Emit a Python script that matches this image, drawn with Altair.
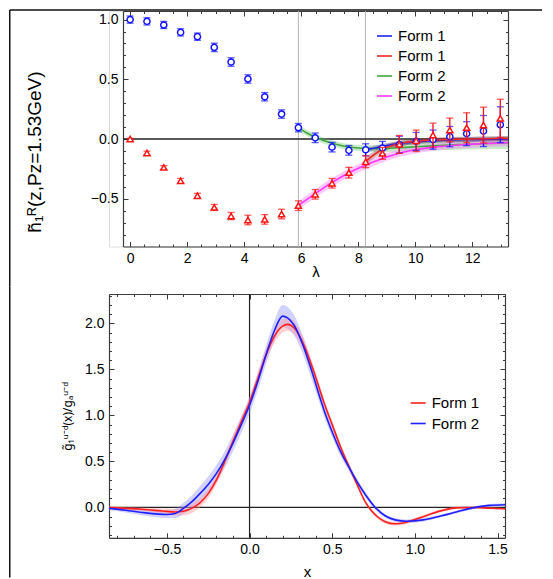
import altair as alt
import pandas as pd
import numpy as np

FONT = "Liberation Sans"
FRAME = "#3c3c3c"

# ---------------- top panel: lattice data ----------------
lam = [0.0, 0.59, 1.18, 1.77, 2.36, 2.95, 3.54, 4.13, 4.72, 5.31, 5.90, 6.49,
       7.08, 7.67, 8.26, 8.85, 9.44, 10.03, 10.62, 11.21, 11.80, 12.39, 12.98]
blue_val = [1.0, 0.985, 0.955, 0.893, 0.857, 0.767, 0.645, 0.503, 0.354, 0.209, 0.095, 0.01,
            -0.068, -0.095, -0.09, -0.075, -0.047, -0.02, -0.005, 0.02, 0.045, 0.067, 0.12]
blue_err = [0.03, 0.03, 0.03, 0.03, 0.03, 0.035, 0.035, 0.035, 0.035, 0.035, 0.035, 0.04,
            0.04, 0.04, 0.05, 0.055, 0.07, 0.075, 0.08, 0.085, 0.10, 0.13, 0.15]
red_val = [0.0, -0.117, -0.238, -0.35, -0.475, -0.573, -0.645, -0.678, -0.673, -0.628, -0.558, -0.463,
           -0.37, -0.282, -0.19, -0.12, -0.045, -0.015, 0.033, 0.075, 0.095, 0.117, 0.173]
red_err = [0.005, 0.015, 0.015, 0.02, 0.02, 0.025, 0.03, 0.04, 0.04, 0.04, 0.04, 0.04,
           0.04, 0.045, 0.05, 0.05, 0.075, 0.09, 0.10, 0.10, 0.125, 0.15, 0.16]

curve2_lam = [5.90, 6.20, 6.50, 7.00, 7.50, 8.00, 8.25, 8.50, 9.00, 9.50, 10.0, 10.5,
              11.0, 11.5, 12.0, 12.5, 13.0, 13.25]
green_mid = [0.095, 0.05, 0.015, -0.03, -0.06, -0.075, -0.078, -0.08, -0.078, -0.072, -0.065, -0.058,
             -0.052, -0.047, -0.042, -0.038, -0.034, -0.032]
green_hw = [0.025, 0.025, 0.025, 0.025, 0.025, 0.025, 0.025, 0.028, 0.03, 0.033, 0.035, 0.038,
            0.04, 0.042, 0.045, 0.047, 0.05, 0.05]
magenta_mid = [-0.555, -0.505, -0.455, -0.375, -0.305, -0.245, -0.22, -0.195, -0.15, -0.115, -0.09, -0.072,
               -0.06, -0.05, -0.043, -0.037, -0.032, -0.03]
magenta_hw = [0.035, 0.035, 0.035, 0.035, 0.035, 0.035, 0.035, 0.035, 0.033, 0.032, 0.03, 0.03,
              0.03, 0.03, 0.03, 0.03, 0.03, 0.03]
curve1_lam = [8.25, 8.50, 8.75, 9.00, 9.50, 10.0, 10.5, 11.0, 11.5, 12.0, 12.5, 13.0, 13.25]
blue1_mid = [-0.09, -0.08, -0.066, -0.054, -0.036, -0.024, -0.016, -0.01, -0.006, -0.004, -0.002, -0.001, 0.0]
blue1_hw = [0.02, 0.02, 0.02, 0.02, 0.02, 0.02, 0.02, 0.02, 0.02, 0.02, 0.02, 0.02, 0.02]
red1_mid = [-0.19, -0.14, -0.10, -0.07, -0.036, -0.018, -0.01, -0.005, -0.002, 0.0, 0.002, 0.004, 0.005]
red1_hw = [0.03, 0.03, 0.028, 0.026, 0.024, 0.022, 0.02, 0.02, 0.02, 0.02, 0.02, 0.02, 0.02]
cut_lam = [5.9, 8.25]

top_series = ["b1", "r1", "g2", "m2"]
top_line_colors = ["#2323e6", "#ec2a2a", "#3fa83f", "#ff38ff"]
top_band_colors = {"b1": "#30308a", "r1": "#8a2a2a", "g2": "#5cc25c", "m2": "#ff5cff"}

# ---------------- bottom panel ----------------
xg = [-0.85, -0.75, -0.65, -0.55, -0.50, -0.45, -0.40, -0.35, -0.30, -0.25, -0.20, -0.15,
      -0.10, -0.05, 0.00, 0.05, 0.10, 0.15, 0.20, 0.23, 0.27, 0.32, 0.38, 0.43, 0.45, 0.50,
      0.55, 0.60, 0.65, 0.70, 0.76, 0.82, 0.88, 0.95, 1.05, 1.15, 1.25, 1.35, 1.45, 1.545]
f1_mid = [0.0, -0.01, -0.02, -0.035, -0.043, -0.05, -0.042, -0.01, 0.05, 0.15, 0.30, 0.50,
          0.72, 0.93, 1.14, 1.40, 1.66, 1.86, 1.97, 1.99, 1.95, 1.80, 1.52, 1.25, 1.14, 0.90,
          0.66, 0.45, 0.25, 0.06, -0.08, -0.155, -0.178, -0.16, -0.10, -0.04, -0.005, 0.0, -0.008, -0.015]
f1_hw = [0.015, 0.015, 0.02, 0.025, 0.03, 0.035, 0.045, 0.05, 0.05, 0.05, 0.05, 0.05,
         0.05, 0.05, 0.055, 0.06, 0.065, 0.07, 0.07, 0.07, 0.07, 0.065, 0.06, 0.05, 0.045, 0.04,
         0.035, 0.03, 0.025, 0.02, 0.02, 0.02, 0.02, 0.02, 0.015, 0.015, 0.01, 0.01, 0.01, 0.01]
f2_mid = [-0.01, -0.03, -0.055, -0.073, -0.076, -0.065, -0.01, 0.06, 0.15, 0.25, 0.37, 0.52,
          0.70, 0.90, 1.11, 1.37, 1.66, 1.92, 2.08, 2.06, 1.98, 1.78, 1.46, 1.17, 1.06, 0.82,
          0.61, 0.44, 0.28, 0.14, 0.0, -0.09, -0.135, -0.15, -0.135, -0.095, -0.05, -0.005, 0.022, 0.03]
f2_hw = [0.02, 0.025, 0.03, 0.035, 0.04, 0.05, 0.06, 0.07, 0.08, 0.085, 0.09, 0.09,
         0.09, 0.09, 0.09, 0.095, 0.10, 0.11, 0.12, 0.12, 0.11, 0.10, 0.09, 0.07, 0.065, 0.055,
         0.05, 0.04, 0.035, 0.03, 0.025, 0.02, 0.02, 0.02, 0.02, 0.015, 0.015, 0.015, 0.015, 0.015]
bot_series = ["Form 1", "Form 2"]
bot_line_colors = ["#ff2020", "#2020ff"]
bot_band_colors = {"Form 1": "#ff8a8a", "Form 2": "#8a8aff"}

# ---------------- tables ----------------
pts = pd.DataFrame({
    "lam": lam,
    "bv": blue_val,
    "blo": [v - e for v, e in zip(blue_val, blue_err)],
    "bhi": [v + e for v, e in zip(blue_val, blue_err)],
    "rv": red_val,
    "rlo": [v - e for v, e in zip(red_val, red_err)],
    "rhi": [v + e for v, e in zip(red_val, red_err)],
})
rows = []
for s, L, mid, hw in [("g2", curve2_lam, green_mid, green_hw), ("m2", curve2_lam, magenta_mid, magenta_hw),
                      ("b1", curve1_lam, blue1_mid, blue1_hw), ("r1", curve1_lam, red1_mid, red1_hw)]:
    for l, m, h in zip(L, mid, hw):
        rows.append({"s": s, "lam": l, "mid": m, "lo": m - h, "hi": m + h})
curves = pd.DataFrame(rows)
rows = []
for s, mid, hw in [("Form 1", f1_mid, f1_hw), ("Form 2", f2_mid, f2_hw)]:
    for x, m, h in zip(xg, mid, hw):
        rows.append({"f": s, "x": x, "mid": m, "lo": m - h, "hi": m + h})
dist = pd.DataFrame(rows)
one = pd.DataFrame({"k": [0]})


def axes_layers(data, xf, yf, xs, ys, xmaj, xmin, ymaj, ymin, xfmt, yfmt,
                xtitle, ytitle, shift, xt_kw, yt_kw, lpad):
    M, m = 5, 2.5
    tick = dict(grid=False, tickColor=FRAME, tickWidth=1)
    lab = dict(labelFont=FONT, labelFontSize=14, labelColor="black", labelFlush=False, labelOverlap=False)
    dom = dict(domain=True, ticks=False, labels=False, title=None, grid=False,
               domainColor=FRAME, domainWidth=1.2)
    specs = [
        (alt.Axis(orient="bottom", values=xmaj, format=xfmt, tickSize=M, offset=-M, domain=False,
                  labelPadding=lpad, title=xtitle, **xt_kw, **tick, **lab),
         alt.Axis(orient="left", values=ymaj, format=yfmt, tickSize=M, offset=-(M + shift), domain=False,
                  labelPadding=lpad, title=ytitle, **yt_kw, **tick, **lab)),
        (alt.Axis(orient="bottom", values=xmin, tickSize=m, offset=-m, domain=False, labels=False,
                  title=None, **tick),
         alt.Axis(orient="left", values=ymin, tickSize=m, offset=-(m + shift), domain=False, labels=False,
                  title=None, **tick)),
        (alt.Axis(orient="top", values=xmaj, tickSize=M, offset=-M, domain=False, labels=False,
                  title=None, **tick),
         alt.Axis(orient="right", values=ymaj, tickSize=M, offset=-M, domain=False, labels=False,
                  title=None, **tick)),
        (alt.Axis(orient="top", values=xmin, tickSize=m, offset=-m, domain=False, labels=False,
                  title=None, **tick),
         alt.Axis(orient="right", values=ymin, tickSize=m, offset=-m, domain=False, labels=False,
                  title=None, **tick)),
        (alt.Axis(orient="bottom", **dom), alt.Axis(orient="left", offset=-shift, **dom)),
        (alt.Axis(orient="top", **dom), alt.Axis(orient="right", **dom)),
    ]
    out = []
    for xa, ya in specs:
        out.append(alt.Chart(data).mark_point(opacity=0).encode(
            x=alt.X(f"{xf}:Q", scale=xs, axis=xa),
            y=alt.Y(f"{yf}:Q", scale=ys, axis=ya)))
    return out


def legend(x, y, rowpad, label_expr=None):
    kw = dict(orient="none", legendX=x, legendY=y, title=None,
              symbolType="stroke", symbolSize=225, symbolStrokeWidth=1.6,
              labelFont=FONT, labelFontSize=15, labelColor="black",
              rowPadding=rowpad, labelOffset=5)
    if label_expr:
        kw["labelExpr"] = label_expr
    return alt.Legend(**kw)


# ================= TOP PANEL =================
TW, TH = 399, 235.5
xs_t = alt.Scale(domain=[-0.25, 13.25], range=[14, TW], nice=False, zero=False)
ys_t = alt.Scale(domain=[-0.9, 1.072], nice=False, zero=False)

def X(f):
    return alt.X(f"{f}:Q", scale=xs_t, axis=None)

def Y(f):
    return alt.Y(f"{f}:Q", scale=ys_t, axis=None)

cuts = alt.Chart(pd.DataFrame({"c": cut_lam})).mark_rule(color="#b4b4b4", strokeWidth=1).encode(x=X("c"))
zero_t = alt.Chart(pd.DataFrame({"a": [-0.25], "b": [13.25], "z": [0.0]})).mark_rule(
    color="#222222", strokeWidth=1.3).encode(x=X("a"), x2="b:Q", y=Y("z"))
bands_t = [
    alt.Chart(curves[curves["s"] == s]).mark_area(interpolate="monotone", fillOpacity=0.33,
                                                  color=top_band_colors[s]).encode(
        x=X("lam"), y=Y("lo"), y2="hi:Q")
    for s in ["g2", "m2", "b1", "r1"]
]
lines_t = alt.Chart(curves).mark_line(interpolate="monotone", strokeWidth=1.6).encode(
    x=X("lam"), y=Y("mid"),
    color=alt.Color("s:N", scale=alt.Scale(domain=top_series, range=top_line_colors),
                    legend=legend(267, 16.5, 3,
                                  "datum.label == 'b1' || datum.label == 'r1' ? 'Form 1' : 'Form 2'")))

def series_layers(v, lo, hi, color, shape):
    base = alt.Chart(pts)
    return [
        base.mark_rule(color=color, strokeWidth=1.3).encode(x=X("lam"), y=Y(lo), y2=f"{hi}:Q"),
        base.mark_tick(orient="horizontal", size=7, thickness=1.3, color=color).encode(x=X("lam"), y=Y(lo)),
        base.mark_tick(orient="horizontal", size=7, thickness=1.3, color=color).encode(x=X("lam"), y=Y(hi)),
        base.mark_point(shape=shape, filled=True, fill="white", stroke=color, strokeWidth=1.5,
                        size=38, opacity=1).encode(x=X("lam"), y=Y(v)),
    ]

# figure border (left and top edge of the page)
frame_top = alt.Chart(one).mark_rule(color="#111111", strokeWidth=1.5).encode(
    x=alt.value(-99.25), x2=alt.value(433), y=alt.value(-1.0))
frame_left_t = alt.Chart(one).mark_rule(color="#111111", strokeWidth=1.5).encode(
    x=alt.value(-99.25), y=alt.value(-1.0), y2=alt.value(275.5))

ax_t = axes_layers(
    pts, "lam", "bv", xs_t, ys_t,
    [0, 2, 4, 6, 8, 10, 12], [round(v, 2) for v in np.arange(0, 13.01, 0.5)],
    [-0.5, 0.0, 0.5, 1.0], [round(v, 2) for v in np.arange(-0.8, 1.05, 0.1)],
    "d", ".1f", "λ", "h̃₁ᴿ(z,Pz=1.53GeV)", 14,
    dict(titleFont=FONT, titleFontSize=15, titleFontWeight="normal", titleColor="black", titleY=23),
    dict(titleFont=FONT, titleFontSize=19, titleFontWeight="normal", titleColor="black",
         titleX=-93.75, titleY=140.5, titleBaseline="middle"),
    5)

top = alt.layer(
    cuts, zero_t, *bands_t, lines_t,
    *series_layers("bv", "blo", "bhi", "#1414ff", "circle"),
    *series_layers("rv", "rlo", "rhi", "#ff1414", "triangle-up"),
    *ax_t, frame_top, frame_left_t,
).properties(width=TW, height=TH).resolve_axis(x="independent", y="independent")

# ================= BOTTOM PANEL =================
BW, BH = 396, 243.8
xs_b = alt.Scale(domain=[-0.85, 1.545], nice=False, zero=False)
ys_b = alt.Scale(domain=[-0.33, 2.32], nice=False, zero=False)

def XB(f):
    return alt.X(f"{f}:Q", scale=xs_b, axis=None)

def YB(f):
    return alt.Y(f"{f}:Q", scale=ys_b, axis=None)

hz_b = alt.Chart(pd.DataFrame({"z": [0.0]})).mark_rule(color="#222222", strokeWidth=1.2).encode(y=YB("z"))
vz_b = alt.Chart(pd.DataFrame({"z": [0.0]})).mark_rule(color="#222222", strokeWidth=1.2).encode(x=XB("z"))
bands_b = [
    alt.Chart(dist[dist["f"] == s]).mark_area(interpolate="monotone", fillOpacity=0.38,
                                              color=bot_band_colors[s]).encode(
        x=XB("x"), y=YB("lo"), y2="hi:Q")
    for s in ["Form 2", "Form 1"]
]
lines_b = alt.Chart(dist).mark_line(interpolate="monotone", strokeWidth=1.6).encode(
    x=XB("x"), y=YB("mid"),
    color=alt.Color("f:N", scale=alt.Scale(domain=bot_series, range=bot_line_colors),
                    legend=legend(300.7, 100.5, 3.5)))
frame_left_b = alt.Chart(one).mark_rule(color="#111111", strokeWidth=1.5).encode(
    x=alt.value(-99.25), y=alt.value(-7.5), y2=alt.value(283.5))

ax_b = axes_layers(
    dist, "x", "mid", xs_b, ys_b,
    [-0.5, 0.0, 0.5, 1.0, 1.5], [round(v, 2) for v in np.arange(-0.8, 1.55, 0.1)],
    [0.0, 0.5, 1.0, 1.5, 2.0], [round(v, 2) for v in np.arange(-0.3, 2.35, 0.1)],
    ".1f", ".1f", "x", "g̃₁ᵘ⁻ᵈ(x)/gₐᵘ⁻ᵈ", 0,
    dict(titleFont=FONT, titleFontSize=15, titleFontWeight="normal", titleColor="black", titleY=32),
    dict(titleFont="Noto Sans", titleFontSize=12, titleFontWeight="normal", titleColor="black",
         titleX=-46.75, titleY=121.9, titleBaseline="middle"),
    5)

bottom = alt.layer(
    hz_b, vz_b, *bands_b, lines_b, *ax_b, frame_left_b,
).properties(width=BW, height=BH).resolve_axis(x="independent", y="independent")

chart = alt.vconcat(top, bottom, spacing=-3).resolve_scale(
    color="independent"
).properties(
    padding={"left": 0, "top": 0, "right": 0, "bottom": 0}
).configure_view(strokeWidth=0).configure(font=FONT)

chart.save("out.html", embed_options={"renderer": "svg", "actions": False})
